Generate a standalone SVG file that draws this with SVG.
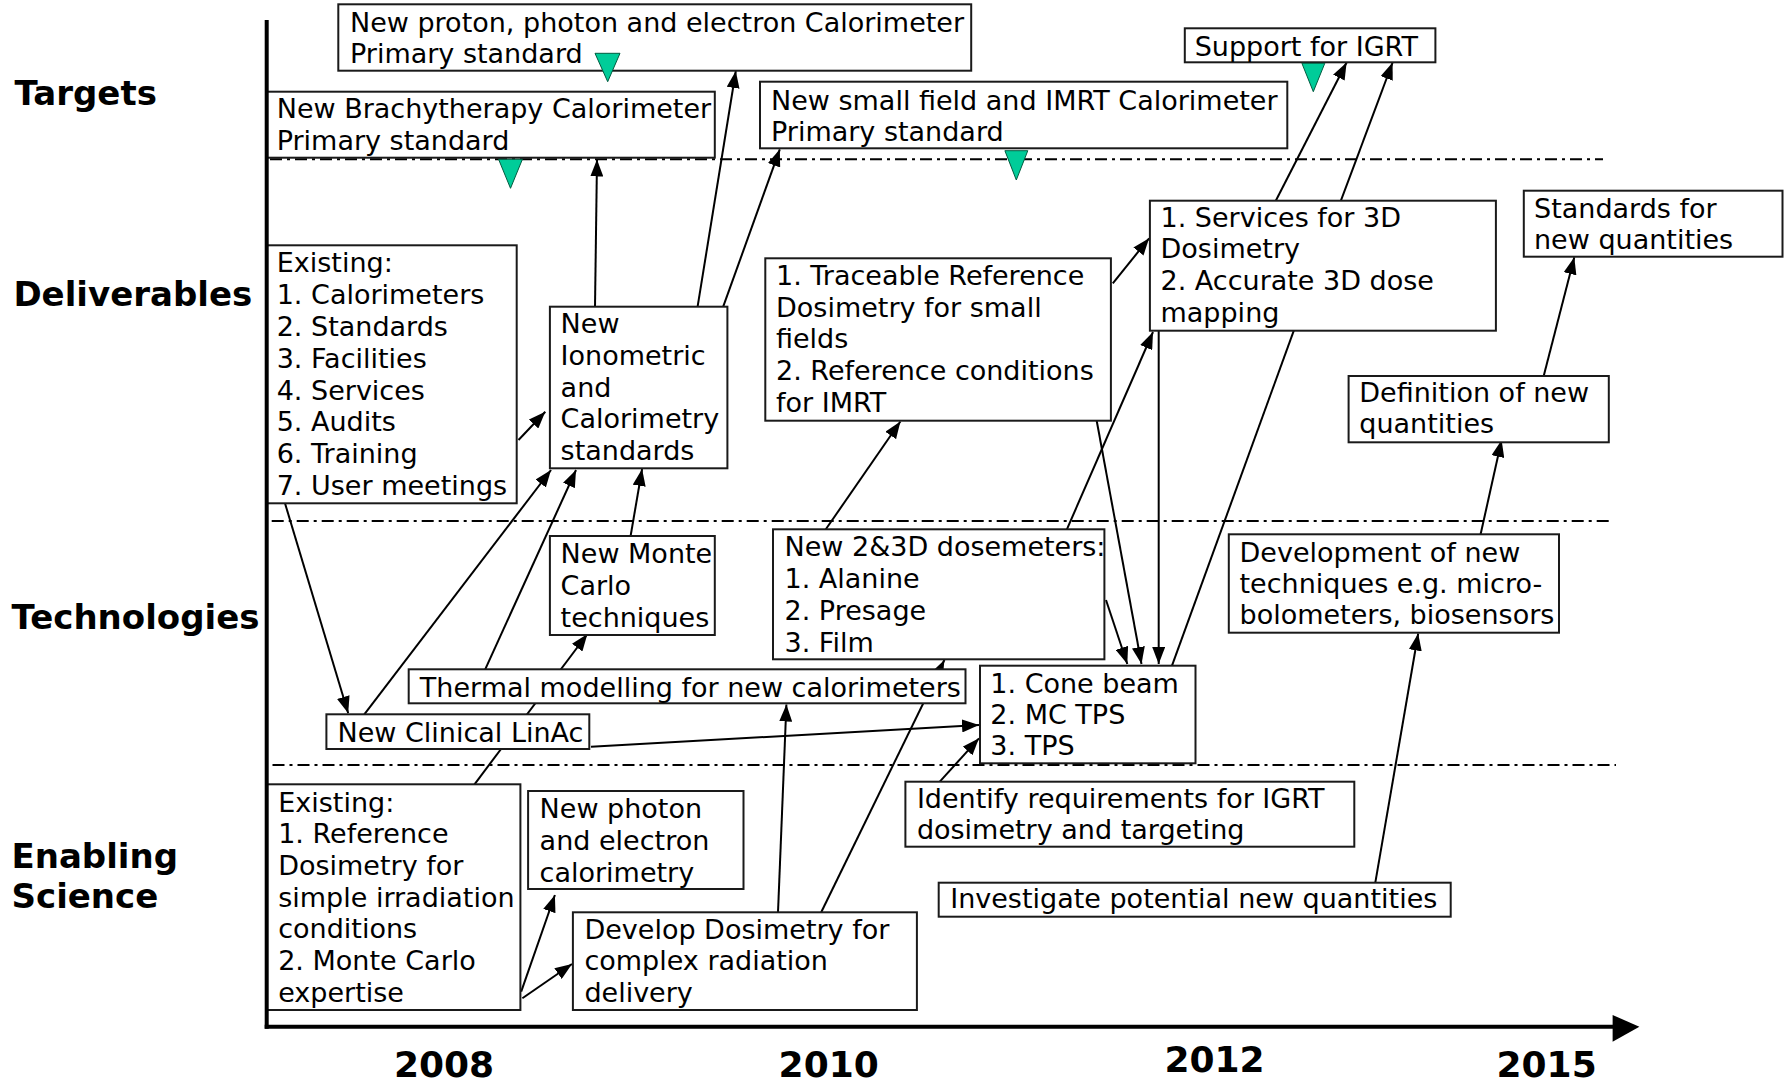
<svg xmlns="http://www.w3.org/2000/svg" width="1784" height="1085" viewBox="0 0 1784 1085">
<style>
.box{fill:#fff;stroke:#1a1a1a;stroke-width:2}
.t{font-family:"DejaVu Sans",Verdana,sans-serif;font-size:27px;fill:#000}
.lbl{font-family:"DejaVu Sans",Verdana,sans-serif;font-weight:bold;font-size:34px;fill:#000}
.yr{font-family:"DejaVu Sans",Verdana,sans-serif;font-weight:bold;font-size:36px;fill:#000;text-anchor:middle}
.c{stroke:#000;stroke-width:2;fill:none;marker-end:url(#ah)}
.ln{stroke:#000;stroke-width:2;fill:none}
.dd{stroke:#000;stroke-width:2;stroke-dasharray:12 5 3 5;fill:none}
.tri{fill:#00cc99;stroke:#005c40;stroke-width:1}
.ax{stroke:#000;stroke-width:4;fill:none}
</style>
<defs>
<marker id="ah" markerUnits="userSpaceOnUse" markerWidth="17" markerHeight="13" refX="17" refY="6.5" orient="auto">
<path d="M0,0 L17,6.5 L0,13 z" fill="#000"/>
</marker>
</defs>
<rect width="1784" height="1085" fill="#fff"/>

<g id="separators">
<line class="dd" x1="270" y1="159.3" x2="1603" y2="159.3"/>
<line class="dd" x1="271.7" y1="521" x2="1609" y2="521"/>
<line class="dd" x1="272.5" y1="765" x2="1616" y2="765"/>
</g>

<g id="connectors">
<line class="c" x1="595" y1="306.7" x2="597" y2="159.5"/>
<line class="c" x1="697.6" y1="306.7" x2="735.8" y2="71"/>
<line class="c" x1="723.2" y1="306.7" x2="779.8" y2="149.3"/>
<line class="c" x1="518.5" y1="440" x2="545.3" y2="411.7"/>
<line class="c" x1="285" y1="503.3" x2="348.2" y2="713.3"/>
<line class="c" x1="364.3" y1="714.3" x2="551" y2="470"/>
<line class="c" x1="485.2" y1="669.3" x2="576" y2="470"/>
<line class="c" x1="630.6" y1="536" x2="642.1" y2="469"/>
<line class="c" x1="474.5" y1="784.3" x2="587.4" y2="634"/>
<line class="c" x1="825.8" y1="529.3" x2="900.4" y2="421.5"/>
<line class="c" x1="1112.8" y1="283.3" x2="1149.1" y2="238.3"/>
<line class="c" x1="1066.9" y1="529.3" x2="1153" y2="332"/>
<line class="c" x1="1275.8" y1="200.7" x2="1346.6" y2="62.5"/>
<line class="c" x1="1340.9" y1="200.7" x2="1392.6" y2="62.5"/>
<line class="c" x1="1543.7" y1="376" x2="1574.3" y2="257.3"/>
<line class="c" x1="1480.6" y1="534.3" x2="1501.6" y2="440"/>
<line class="c" x1="1375.3" y1="882.7" x2="1418.2" y2="633.5"/>
<line class="c" x1="1106" y1="600" x2="1127.3" y2="664"/>
<line class="c" x1="1096.7" y1="420.7" x2="1141.5" y2="664"/>
<line class="c" x1="1158.7" y1="330.7" x2="1158.7" y2="664"/>
<line class="ln" x1="1172" y1="665.7" x2="1293.8" y2="330.7"/>
<line class="c" x1="591" y1="746.7" x2="979" y2="725"/>
<line class="c" x1="939.8" y1="781.7" x2="979" y2="738.3"/>
<line class="c" x1="778" y1="912.3" x2="786.4" y2="704.5"/>
<line class="c" x1="821.2" y1="912.3" x2="944.4" y2="660"/>
<line class="c" x1="521.2" y1="991.7" x2="554.9" y2="895"/>
<line class="c" x1="522.4" y1="998.3" x2="572" y2="964"/>
</g>

<g id="n-proton">
<rect class="box" x="338.3" y="4.3" width="632.9" height="66.4"/>
<text class="t" x="350" y="32.3">New proton, photon and electron Calorimeter</text>
<text class="t" x="350" y="63.3">Primary standard</text>
</g>
<g id="n-brachy">
<rect class="box" x="266.7" y="91.7" width="448.1" height="66"/>
<text class="t" x="276.7" y="118.3">New Brachytherapy Calorimeter</text>
<text class="t" x="276.7" y="149.5">Primary standard</text>
</g>
<g id="n-smallfield">
<rect class="box" x="760" y="81.7" width="527.3" height="66.6"/>
<text class="t" x="771" y="110">New small field and IMRT Calorimeter</text>
<text class="t" x="771" y="141">Primary standard</text>
</g>
<g id="n-igrt">
<rect class="box" x="1184.8" y="28.3" width="250.6" height="34"/>
<text class="t" x="1194.7" y="55.7">Support for IGRT</text>
</g>
<g id="n-standards">
<rect class="box" x="1523.8" y="190.7" width="258.7" height="66"/>
<text class="t" x="1534" y="218.3">Standards for</text>
<text class="t" x="1534" y="249.3">new quantities</text>
</g>
<g id="n-existing-deliv">
<rect class="box" x="266.7" y="245.3" width="250" height="258"/>
<text class="t" x="276.7" y="272.3">Existing:<tspan x="276.7" dy="31.8">1. Calorimeters</tspan><tspan x="276.7" dy="31.8">2. Standards</tspan><tspan x="276.7" dy="31.8">3. Facilities</tspan><tspan x="276.7" dy="31.8">4. Services</tspan><tspan x="276.7" dy="31.8">5. Audits</tspan><tspan x="276.7" dy="31.8">6. Training</tspan><tspan x="276.7" dy="31.8">7. User meetings</tspan></text>
</g>
<g id="n-ionometric">
<rect class="box" x="549.9" y="306.7" width="177.5" height="161.6"/>
<text class="t" x="560.6" y="333.3">New<tspan x="560.6" dy="31.7">Ionometric</tspan><tspan x="560.6" dy="31.7">and</tspan><tspan x="560.6" dy="31.7">Calorimetry</tspan><tspan x="560.6" dy="31.7">standards</tspan></text>
</g>
<g id="n-traceable">
<rect class="box" x="765.3" y="258.3" width="345.6" height="162.4"/>
<text class="t" x="776" y="285">1. Traceable Reference<tspan x="776" dy="31.7">Dosimetry for small</tspan><tspan x="776" dy="31.7">fields</tspan><tspan x="776" dy="31.7">2. Reference conditions</tspan><tspan x="776" dy="31.7">for IMRT</tspan></text>
</g>
<g id="n-services">
<rect class="box" x="1149.9" y="200.7" width="346" height="130"/>
<text class="t" x="1160.5" y="226.7">1. Services for 3D<tspan x="1160.5" dy="31.7">Dosimetry</tspan><tspan x="1160.5" dy="31.7">2. Accurate 3D dose</tspan><tspan x="1160.5" dy="31.7">mapping</tspan></text>
</g>
<g id="n-definition">
<rect class="box" x="1348.6" y="376" width="260.2" height="66.3"/>
<text class="t" x="1359.3" y="401.7">Definition of new</text>
<text class="t" x="1359.3" y="432.7">quantities</text>
</g>
<g id="n-montecarlo">
<rect class="box" x="549.9" y="536" width="164.9" height="99"/>
<text class="t" x="560.6" y="563.3">New Monte<tspan x="560.6" dy="31.7">Carlo</tspan><tspan x="560.6" dy="31.7">techniques</tspan></text>
</g>
<g id="n-dosemeters">
<rect class="box" x="773" y="529.3" width="331.4" height="130"/>
<text class="t" x="784.5" y="555.7">New 2&amp;3D dosemeters:<tspan x="784.5" dy="32">1. Alanine</tspan><tspan x="784.5" dy="32">2. Presage</tspan><tspan x="784.5" dy="32">3. Film</tspan></text>
</g>
<g id="n-development">
<rect class="box" x="1228.8" y="534.3" width="330.2" height="98.4"/>
<text class="t" x="1239.5" y="561.7">Development of new<tspan x="1239.5" dy="31.2">techniques e.g. micro-</tspan><tspan x="1239.5" dy="31.2">bolometers, biosensors</tspan></text>
</g>
<g id="n-thermal">
<rect class="box" x="408.7" y="669.3" width="556.8" height="34"/>
<text class="t" x="419.8" y="696.7">Thermal modelling for new calorimeters</text>
</g>
<g id="n-linac">
<rect class="box" x="326.4" y="714.3" width="262.9" height="34.7"/>
<text class="t" x="337.5" y="741.7">New Clinical LinAc</text>
</g>
<g id="n-cone">
<rect class="box" x="980" y="665.7" width="215.5" height="97.6"/>
<text class="t" x="990.3" y="692.7">1. Cone beam<tspan x="990.3" dy="31.3">2. MC TPS</tspan><tspan x="990.3" dy="31.3">3. TPS</tspan></text>
</g>
<g id="n-existing-science">
<rect class="box" x="266.7" y="784.3" width="253.7" height="225.7"/>
<text class="t" x="278.2" y="811.7">Existing:<tspan x="278.2" dy="31.67">1. Reference</tspan><tspan x="278.2" dy="31.67">Dosimetry for</tspan><tspan x="278.2" dy="31.67">simple irradiation</tspan><tspan x="278.2" dy="31.67">conditions</tspan><tspan x="278.2" dy="31.67">2. Monte Carlo</tspan><tspan x="278.2" dy="31.67">expertise</tspan></text>
</g>
<g id="n-photon">
<rect class="box" x="528.1" y="791" width="215.4" height="98"/>
<text class="t" x="539.6" y="818.3">New photon<tspan x="539.6" dy="31.7">and electron</tspan><tspan x="539.6" dy="31.7">calorimetry</tspan></text>
</g>
<g id="n-develop">
<rect class="box" x="572.9" y="912.3" width="344" height="97.7"/>
<text class="t" x="584.4" y="939">Develop Dosimetry for<tspan x="584.4" dy="31.4">complex radiation</tspan><tspan x="584.4" dy="31.4">delivery</tspan></text>
</g>
<g id="n-identify">
<rect class="box" x="905.4" y="781.7" width="448.9" height="65"/>
<text class="t" x="916.9" y="808.3">Identify requirements for IGRT</text>
<text class="t" x="916.9" y="839.3">dosimetry and targeting</text>
</g>
<g id="n-investigate">
<rect class="box" x="938.7" y="882.7" width="512" height="34"/>
<text class="t" x="950.2" y="908.3">Investigate potential new quantities</text>
</g>

<g id="milestones">
<polygon class="tri" points="595,53.3 620,53.3 607.7,81.7"/>
<polygon class="tri" points="498.6,159.3 522.4,159.3 510.5,188.3"/>
<polygon class="tri" points="1004.9,150.7 1027.8,150.7 1016.3,180"/>
<polygon class="tri" points="1301.9,63.3 1324.8,63.3 1313.3,91.7"/>
</g>

<g id="axes">
<line class="ax" x1="266.7" y1="20" x2="266.7" y2="1028.7"/>
<line class="ax" x1="264.7" y1="1026.7" x2="1614" y2="1026.7"/>
<polygon points="1612.6,1015 1639.4,1026.7 1612.6,1041.7" fill="#000"/>
</g>

<g id="labels">
<text class="lbl" x="14.5" y="105">Targets</text>
<text class="lbl" x="13.4" y="305.7">Deliverables</text>
<text class="lbl" x="11.5" y="629.3">Technologies</text>
<text class="lbl" x="11.5" y="868.3">Enabling</text>
<text class="lbl" x="11.5" y="908.3">Science</text>
<text class="yr" x="444" y="1077">2008</text>
<text class="yr" x="828.7" y="1077">2010</text>
<text class="yr" x="1214.5" y="1071.7">2012</text>
<text class="yr" x="1546.6" y="1077">2015</text>
</g>
</svg>
